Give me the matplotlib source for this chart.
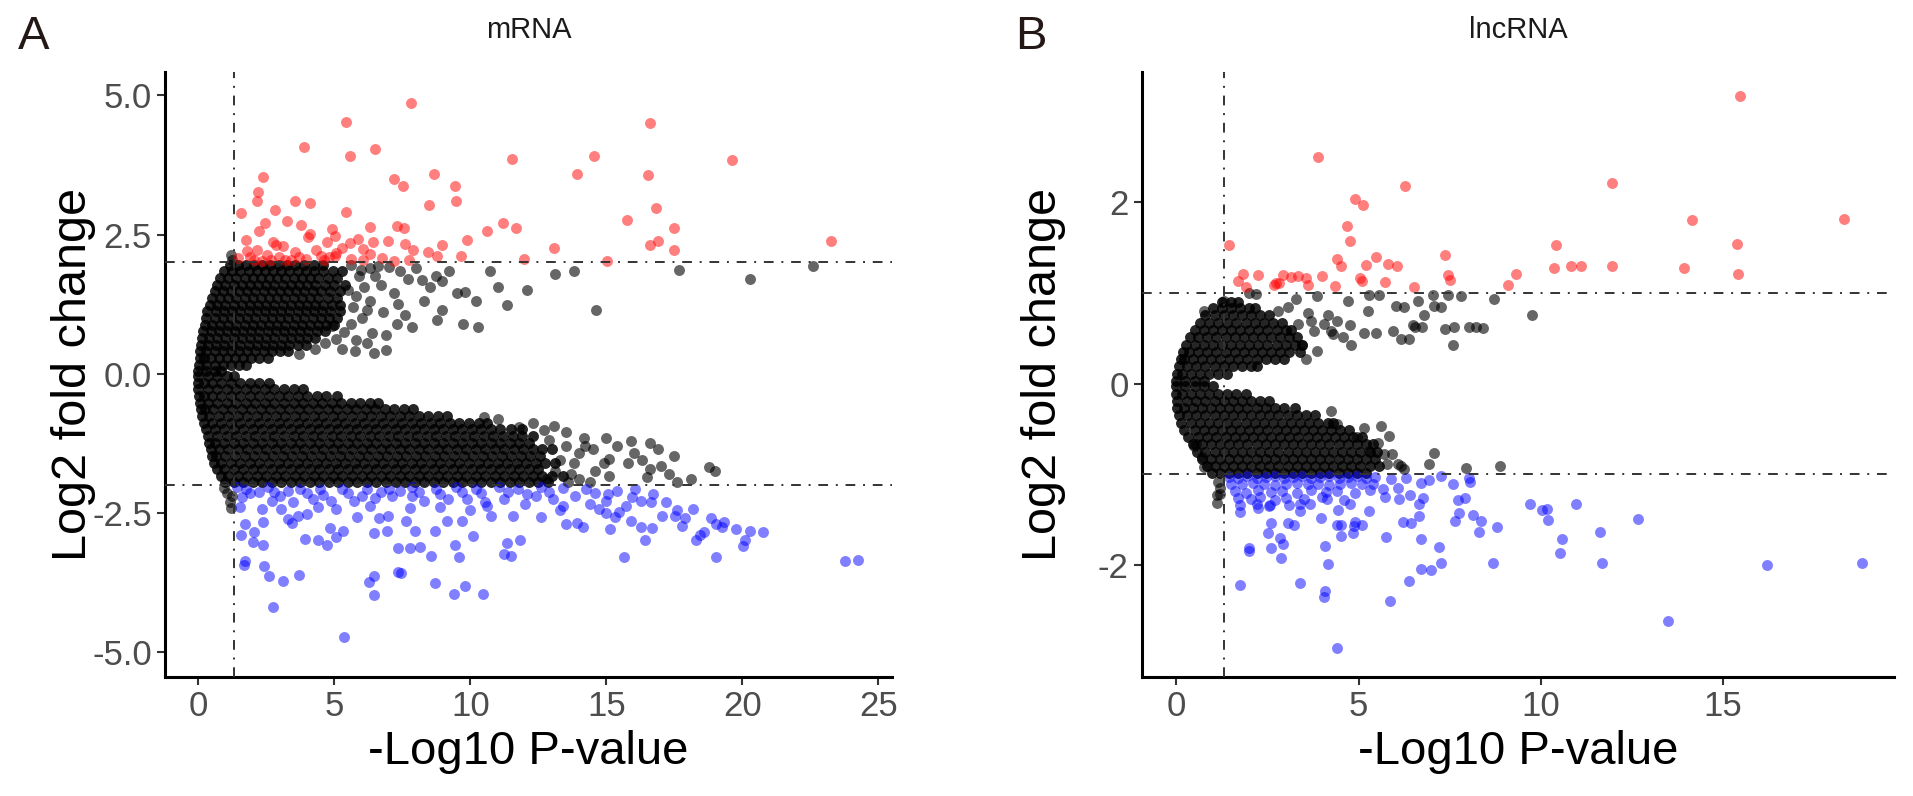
import matplotlib
matplotlib.use("Agg")
import matplotlib.pyplot as plt
from matplotlib.ticker import FormatStrFormatter

plt.rcParams['font.family'] = ['Liberation Sans Narrow', 'Liberation Sans', 'DejaVu Sans']

P_CUT = 1.3          # -log10(0.05)
MRNA_FC = 2.0
LNC_FC = 1.0

# ---------------- mRNA (panel A) ----------------
# up-regulated (red)
mrna_up = [
    (7.82, 4.86), (5.42, 4.52), (16.6, 4.51), (3.88, 4.07), (6.51, 4.03), (5.57, 3.92),
    (11.54, 3.85), (14.56, 3.91), (19.6, 3.84), (2.37, 3.54), (8.66, 3.58), (13.93, 3.58),
    (16.53, 3.57), (7.18, 3.49), (7.51, 3.38), (9.44, 3.38), (2.21, 3.27), (2.14, 3.10),
    (3.55, 3.11), (4.11, 3.06), (8.49, 3.03), (9.48, 3.11), (1.57, 2.88), (2.83, 2.94),
    (5.44, 2.91), (16.83, 2.97), (3.27, 2.75), (3.77, 2.67), (2.44, 2.70), (2.22, 2.57),
    (11.2, 2.71), (11.69, 2.61), (15.76, 2.77), (17.47, 2.61), (6.32, 2.63), (7.29, 2.66),
    (7.56, 2.61), (4.90, 2.60), (4.11, 2.51), (5.03, 2.48), (1.76, 2.41), (10.63, 2.56),
    (23.25, 2.38), (2.73, 2.36), (4.03, 2.45), (5.87, 2.42), (6.97, 2.38), (6.42, 2.37),
    (5.59, 2.35), (4.72, 2.36), (9.87, 2.40), (8.97, 2.32), (7.59, 2.33), (13.07, 2.26),
    (16.6, 2.31), (16.88, 2.38), (17.47, 2.22), (2.14, 2.22), (2.85, 2.32), (3.57, 2.19),
    (4.34, 2.23), (5.08, 2.17), (6.06, 2.24), (7.9, 2.22), (8.46, 2.19), (8.77, 2.11),
    (9.66, 2.11), (11.99, 2.06), (15.04, 2.03), (2.53, 2.14), (3.19, 2.05), (3.95, 2.06),
    (4.62, 2.05), (6.06, 2.04), (6.77, 2.08), (7.21, 2.02), (7.75, 2.05), (2.06, 2.05),
    (2.67, 2.04), (5.04, 2.11), (1.45, 2.08), (1.9, 2.1), (2.35, 2.02), (2.95, 2.1),
    (3.4, 2.04), (3.7, 2.1), (4.5, 2.12), (5.6, 2.06), (5.3, 2.25), (6.3, 2.15),
    (4.8, 2.1), (1.8, 2.2), (3.1, 2.3),
]

# down-regulated (blue)
mrna_down = [
    (5.37, -4.74), (2.73, -4.20), (6.46, -3.98), (9.39, -3.95), (9.82, -3.81), (10.48, -3.95),
    (8.69, -3.76), (6.26, -3.74), (6.47, -3.63), (7.33, -3.57), (7.46, -3.59), (3.11, -3.73),
    (3.72, -3.61), (2.60, -3.64), (2.40, -3.46), (1.68, -3.44), (1.70, -3.37), (23.76, -3.37),
    (24.26, -3.34), (15.65, -3.29), (19.03, -3.30), (8.54, -3.28), (9.59, -3.30), (11.23, -3.24),
    (11.48, -3.28), (7.34, -3.13), (7.80, -3.13), (8.16, -3.12), (9.43, -3.08), (11.36, -3.04),
    (11.82, -2.98), (10.1, -2.91), (20.03, -3.10), (20.1, -2.98), (16.42, -2.99), (18.29, -2.98),
    (18.44, -2.90), (20.28, -2.83), (20.77, -2.85), (19.77, -2.79), (19.04, -2.70), (19.32, -2.67),
    (18.83, -2.60), (15.14, -2.79), (16.26, -2.76), (16.67, -2.77), (17.77, -2.73), (17.52, -2.55),
    (18.18, -2.43), (17.03, -2.55), (15.89, -2.65), (15.32, -2.58), (13.51, -2.70), (13.92, -2.68),
    (14.15, -2.76), (12.61, -2.57), (11.58, -2.56), (10.76, -2.55), (9.13, -2.65), (9.69, -2.65),
    (8.69, -2.83), (7.95, -2.83), (6.95, -2.82), (6.47, -2.87), (6.65, -2.60), (6.97, -2.55),
    (7.62, -2.64), (4.85, -2.77), (5.31, -2.83), (5.08, -2.93), (4.72, -3.08), (4.40, -2.98),
    (3.93, -2.97), (2.39, -3.08), (2.01, -3.02), (1.57, -2.89), (2.06, -2.85), (1.71, -2.70),
    (2.37, -2.67), (3.29, -2.61), (3.44, -2.68), (3.98, -2.52), (3.68, -2.56), (5.83, -2.58),
    (3.04, -2.43), (2.35, -2.43), (1.52, -2.40), (5.05, -2.43), (7.77, -2.42), (10.63, -2.37),
    (13.42, -2.38), (14.73, -2.43), (15.73, -2.37), (16.65, -2.31), (16.29, -2.28), (14.97, -2.28),
    (14.24, -2.07), (13.83, -2.19), (13.02, -2.25), (12.43, -2.19), (11.25, -2.25), (10.53, -2.31),
    (9.89, -2.26), (9.18, -2.25), (8.29, -2.28), (7.84, -2.19), (7.13, -2.19), (6.49, -2.24),
    (5.73, -2.28), (4.88, -2.28), (4.22, -2.25), (3.49, -2.30), (3.0, -2.19), (2.25, -2.13),
    (1.76, -2.07), (1.44, -2.04), (2.58, -2.04), (3.73, -2.07), (4.47, -2.07), (5.29, -2.08),
    (6.19, -2.07), (7.02, -2.07), (7.84, -2.04), (8.74, -2.07), (9.48, -2.04), (10.21, -2.07),
    (11.04, -2.04), (11.77, -2.07), (12.6, -2.04), (13.42, -2.06), (16.04, -2.07), (16.7, -2.16),
    (15.96, -2.22), (15.06, -2.16), (15.47, -2.49), (18.59, -2.85), (19.24, -2.76),
    (1.9, -2.15), (2.8, -2.12), (3.3, -2.1), (4.0, -2.15), (4.6, -2.18), (5.5, -2.15),
    (6.0, -2.2), (6.7, -2.12), (7.4, -2.1), (8.1, -2.12), (8.9, -2.16), (9.7, -2.12),
    (10.4, -2.15), (11.4, -2.13), (12.1, -2.16), (12.9, -2.12), (14.6, -2.14), (15.4, -2.1),
    (17.2, -2.3), (17.6, -2.45), (14.4, -2.35), (12.0, -2.35), (8.9, -2.4), (6.3, -2.38),
    (4.4, -2.4), (2.7, -2.28), (1.6, -2.22), (17.9, -2.6), (15.0, -2.5), (13.3, -2.45),
    (10.0, -2.45),
]

# not significant, dense core read row by row: (log2FC, [-log10 p ...])
mrna_ns_rows = [
    (1.95, [1.15, 1.45, 1.75, 2.05, 2.35, 2.65, 2.95, 3.25, 3.55, 3.9, 4.25, 4.6]),
    (1.84, [0.95, 1.25, 1.55, 1.85, 2.15, 2.45, 2.75, 3.05, 3.35, 3.65, 3.95, 4.25, 4.6, 4.95, 5.3]),
    (1.72, [0.8, 1.1, 1.4, 1.7, 2.0, 2.3, 2.6, 2.9, 3.2, 3.5, 3.8, 4.1, 4.4, 4.75, 5.1]),
    (1.60, [0.7, 1.0, 1.3, 1.6, 1.9, 2.2, 2.5, 2.8, 3.1, 3.4, 3.7, 4.0, 4.3, 4.65, 5.0, 5.4]),
    (1.48, [0.6, 0.9, 1.2, 1.5, 1.8, 2.1, 2.4, 2.7, 3.0, 3.3, 3.6, 3.9, 4.2, 4.5, 4.85, 5.2]),
    (1.36, [0.5, 0.8, 1.1, 1.4, 1.7, 2.0, 2.3, 2.6, 2.9, 3.2, 3.5, 3.8, 4.1, 4.4, 4.75, 5.1]),
    (1.24, [0.42, 0.7, 1.0, 1.3, 1.6, 1.9, 2.2, 2.5, 2.8, 3.1, 3.4, 3.7, 4.0, 4.3, 4.6, 4.9, 5.2]),
    (1.12, [0.33, 0.65, 0.95, 1.25, 1.55, 1.85, 2.15, 2.45, 2.75, 3.05, 3.35, 3.65, 3.95, 4.25, 4.55, 4.85, 5.2]),
    (1.00, [0.28, 0.6, 0.9, 1.2, 1.5, 1.8, 2.1, 2.4, 2.7, 3.0, 3.3, 3.6, 3.9, 4.2, 4.5, 4.8, 5.1]),
    (0.88, [0.23, 0.5, 0.8, 1.1, 1.4, 1.7, 2.0, 2.3, 2.6, 2.9, 3.2, 3.5, 3.8, 4.1, 4.4, 4.7, 5.0]),
    (0.76, [0.18, 0.45, 0.75, 1.05, 1.35, 1.65, 1.95, 2.25, 2.55, 2.85, 3.15, 3.45, 3.75, 4.05, 4.35, 4.65]),
    (0.64, [0.13, 0.4, 0.7, 1.0, 1.3, 1.6, 1.9, 2.2, 2.5, 2.8, 3.1, 3.4, 3.7, 4.0, 4.3]),
    (0.52, [0.1, 0.35, 0.65, 0.95, 1.25, 1.55, 1.85, 2.15, 2.45, 2.75, 3.05, 3.35, 3.65, 3.95]),
    (0.40, [0.08, 0.3, 0.6, 0.9, 1.2, 1.5, 1.8, 2.1, 2.4, 2.7, 3.0, 3.3]),
    (0.28, [0.05, 0.2, 0.45, 0.75, 1.05, 1.35, 1.65, 1.95, 2.25, 2.55]),
    (0.16, [0.02, 0.3, 0.6, 0.9, 1.2, 1.5, 1.75]),
    (0.04, [0.0, 0.3, 0.6, 0.85]),
    (-0.04, [0.0, 0.35, 0.7, 1.05, 1.3]),
    (-0.16, [0.0, 0.2, 0.5, 0.85, 1.2, 1.55, 1.9, 2.25, 2.6]),
    (-0.28, [0.0, 0.35, 0.7, 1.05, 1.4, 1.75, 2.1, 2.45, 2.8, 3.15, 3.5, 3.85]),
    (-0.40, [0.02, 0.2, 0.5, 0.85, 1.2, 1.55, 1.9, 2.25, 2.6, 2.95, 3.3, 3.65, 4.0, 4.35, 4.7, 5.1]),
    (-0.52, [0.05, 0.35, 0.7, 1.05, 1.4, 1.75, 2.1, 2.45, 2.8, 3.15, 3.5, 3.85, 4.2, 4.55, 4.9, 5.25,
             5.6, 5.95, 6.3, 6.6]),
    (-0.64, [0.1, 0.25, 0.55, 0.9, 1.25, 1.6, 1.95, 2.3, 2.65, 3.0, 3.35, 3.7, 4.05, 4.4, 4.75, 5.1,
             5.45, 5.8, 6.15, 6.5, 6.85, 7.2, 7.55, 7.9]),
    (-0.76, [0.15, 0.4, 0.75, 1.1, 1.45, 1.8, 2.15, 2.5, 2.85, 3.2, 3.55, 3.9, 4.25, 4.6, 4.95, 5.3,
             5.65, 6.0, 6.35, 6.7, 7.05, 7.4, 7.75, 8.1, 8.45, 8.8, 9.15]),
    (-0.88, [0.22, 0.5, 0.85, 1.2, 1.55, 1.9, 2.25, 2.6, 2.95, 3.3, 3.65, 4.0, 4.35, 4.7, 5.05, 5.4,
             5.75, 6.1, 6.45, 6.8, 7.15, 7.5, 7.85, 8.2, 8.55, 8.9, 9.25, 9.6, 9.95, 10.3, 10.6]),
    (-1.00, [0.3, 0.6, 0.95, 1.3, 1.65, 2.0, 2.35, 2.7, 3.05, 3.4, 3.75, 4.1, 4.45, 4.8, 5.15, 5.5,
             5.85, 6.2, 6.55, 6.9, 7.25, 7.6, 7.95, 8.3, 8.65, 9.0, 9.35, 9.7, 10.05, 10.4, 10.75,
             11.1, 11.5, 11.9]),
    (-1.12, [0.35, 0.7, 1.05, 1.4, 1.75, 2.1, 2.45, 2.8, 3.15, 3.5, 3.85, 4.2, 4.55, 4.9, 5.25, 5.6,
             5.95, 6.3, 6.65, 7.0, 7.35, 7.7, 8.05, 8.4, 8.75, 9.1, 9.45, 9.8, 10.15, 10.5, 10.85,
             11.2, 11.55, 11.9, 12.3]),
    (-1.24, [0.4, 0.6, 0.95, 1.3, 1.65, 2.0, 2.35, 2.7, 3.05, 3.4, 3.75, 4.1, 4.45, 4.8, 5.15, 5.5,
             5.85, 6.2, 6.55, 6.9, 7.25, 7.6, 7.95, 8.3, 8.65, 9.0, 9.35, 9.7, 10.05, 10.4, 10.75,
             11.1, 11.45, 11.8, 12.15]),
    (-1.36, [0.45, 0.75, 1.1, 1.45, 1.8, 2.15, 2.5, 2.85, 3.2, 3.55, 3.9, 4.25, 4.6, 4.95, 5.3, 5.65,
             6.0, 6.35, 6.7, 7.05, 7.4, 7.75, 8.1, 8.45, 8.8, 9.15, 9.5, 9.85, 10.2, 10.55, 10.9,
             11.25, 11.6, 11.95, 12.3, 12.65, 13.0]),
    (-1.48, [0.5, 0.65, 1.0, 1.35, 1.7, 2.05, 2.4, 2.75, 3.1, 3.45, 3.8, 4.15, 4.5, 4.85, 5.2, 5.55,
             5.9, 6.25, 6.6, 6.95, 7.3, 7.65, 8.0, 8.35, 8.7, 9.05, 9.4, 9.75, 10.1, 10.45, 10.8,
             11.15, 11.5, 11.85, 12.2, 12.55]),
    (-1.60, [0.58, 0.85, 1.2, 1.55, 1.9, 2.25, 2.6, 2.95, 3.3, 3.65, 4.0, 4.35, 4.7, 5.05, 5.4, 5.75,
             6.1, 6.45, 6.8, 7.15, 7.5, 7.85, 8.2, 8.55, 8.9, 9.25, 9.6, 9.95, 10.3, 10.65, 11.0,
             11.35, 11.7, 12.05, 12.4, 12.75, 13.1]),
    (-1.72, [0.68, 0.95, 1.3, 1.65, 2.0, 2.35, 2.7, 3.05, 3.4, 3.75, 4.1, 4.45, 4.8, 5.15, 5.5, 5.85,
             6.2, 6.55, 6.9, 7.25, 7.6, 7.95, 8.3, 8.65, 9.0, 9.35, 9.7, 10.05, 10.4, 10.75, 11.1,
             11.45, 11.8, 12.15, 12.5]),
    (-1.84, [0.85, 1.1, 1.45, 1.8, 2.15, 2.5, 2.85, 3.2, 3.55, 3.9, 4.25, 4.6, 4.95, 5.3, 5.65, 6.0,
             6.35, 6.7, 7.05, 7.4, 7.75, 8.1, 8.45, 8.8, 9.15, 9.5, 9.85, 10.2, 10.55, 10.9, 11.25,
             11.6, 11.95, 12.3, 12.65, 13.0, 13.4]),
    (-1.95, [1.0, 1.3, 1.65, 2.0, 2.35, 2.7, 3.05, 3.4, 3.75, 4.1, 4.45, 4.8, 5.15, 5.5, 5.85, 6.2,
             6.55, 6.9, 7.25, 7.6, 7.95, 8.3, 8.65, 9.0, 9.35, 9.7, 10.05, 10.4, 10.75, 11.1, 11.45,
             11.8, 12.15, 12.5, 12.85]),
]

# not significant, scattered points outside the core
mrna_ns_extra = [
    (10.71, 1.84), (13.1, 1.80), (13.81, 1.85), (17.67, 1.86), (20.28, 1.70), (22.6, 1.93),
    (7.0, 1.92), (6.6, 1.94), (5.98, 1.86), (7.70, 1.71), (8.21, 1.68), (8.72, 1.75),
    (8.95, 1.67), (12.1, 1.50), (9.8, 1.47), (11.36, 1.23), (14.63, 1.14), (10.29, 0.84),
    (9.74, 0.89), (9.5, 1.45), (8.97, 1.14), (8.79, 0.96), (7.87, 0.84), (7.35, 1.26),
    (6.9, 0.42), (6.47, 0.37), (6.4, 0.73), (5.8, 0.6), (6.0, 1.0), (6.3, 1.3),
    (6.7, 1.6), (5.9, 1.75), (7.2, 1.45), (6.8, 1.1), (7.6, 1.05), (8.3, 1.3),
    (5.7, 1.2), (5.6, 0.9), (6.2, 0.55), (5.5, 1.5), (6.1, 1.55), (8.0, 1.9),
    (9.2, 1.85), (10.2, 1.3), (11.0, 1.55), (6.9, 0.7), (1.19, 2.14), (1.25, 2.05),
    (5.6, 1.95), (6.3, 1.9), (5.75, 0.4), (5.3, 0.45), (7.3, 0.9), (8.5, 1.55),
    (5.35, 0.75), (4.65, 0.55), (4.3, 0.45), (3.7, 0.35), (5.05, 0.62), (4.9, 0.85),
    (5.8, 1.4), (6.5, 1.75), (7.4, 1.85), (6.2, 1.15),
    (13.06, -0.94), (14.19, -1.15), (15.0, -1.15), (15.9, -1.21), (16.6, -1.24), (17.48, -1.48),
    (18.78, -1.68), (19.0, -1.74), (12.3, -0.88), (11.8, -0.95), (12.7, -1.02), (13.5, -1.3),
    (13.8, -1.6), (14.0, -1.42), (14.5, -1.36), (15.1, -1.54), (15.8, -1.6), (16.0, -1.42),
    (15.4, -1.3), (14.9, -1.6), (16.6, -1.71), (15.1, -1.83), (14.6, -1.75), (16.3, -1.55),
    (16.5, -1.85), (17.0, -1.65), (17.3, -1.8), (17.6, -1.95), (18.1, -1.9), (16.9, -1.35),
    (14.0, -1.9), (13.7, -1.8), (14.4, -1.95), (13.5, -1.05), (14.2, -1.3), (11.0, -0.82),
    (10.5, -0.78), (12.9, -1.2), (13.3, -1.55), (13.1, -1.75), (12.8, -1.9), (13.6, -1.95),
    (0.95, -2.05), (1.05, -2.15), (1.15, -2.3), (1.22, -2.42), (1.25, -2.2),
]

# ---------------- lncRNA (panel B) ----------------
lnc_up = [
    (15.47, 3.17), (3.90, 2.50), (11.94, 2.21), (6.27, 2.17), (4.91, 2.03), (5.13, 1.97),
    (14.16, 1.80), (18.32, 1.81), (4.68, 1.73), (4.77, 1.57), (1.45, 1.53), (10.41, 1.53),
    (15.39, 1.54), (4.42, 1.37), (4.51, 1.29), (5.21, 1.31), (5.48, 1.39), (5.81, 1.32),
    (6.05, 1.29), (7.36, 1.42), (7.46, 1.20), (7.51, 1.14), (9.11, 1.09), (9.31, 1.21),
    (10.35, 1.27), (10.82, 1.29), (11.09, 1.29), (11.94, 1.29), (13.94, 1.27), (15.42, 1.21),
    (1.82, 1.21), (1.70, 1.13), (1.91, 1.06), (2.25, 1.20), (2.69, 1.08), (2.82, 1.11),
    (2.94, 1.20), (3.14, 1.17), (3.33, 1.18), (3.56, 1.16), (3.62, 1.09), (3.99, 1.18),
    (4.34, 1.07), (5.04, 1.16), (5.09, 1.13), (5.73, 1.12), (6.51, 1.06), (2.74, 1.11),
]

lnc_down = [
    (4.42, -2.91), (13.50, -2.61), (16.21, -2.0), (18.82, -1.97), (5.87, -2.39), (6.39, -2.17),
    (6.71, -2.04), (7.0, -2.05), (7.26, -1.97), (7.21, -1.80), (6.71, -1.71), (5.76, -1.69),
    (8.69, -1.98), (10.52, -1.87), (10.58, -1.71), (11.67, -1.98), (11.63, -1.63), (12.66, -1.49),
    (10.96, -1.33), (9.70, -1.32), (10.03, -1.39), (10.20, -1.50), (10.16, -1.38), (8.81, -1.58),
    (8.30, -1.63), (8.36, -1.51), (8.15, -1.45), (7.76, -1.42), (7.64, -1.51), (7.91, -1.26),
    (7.74, -1.28), (7.58, -1.11), (8.07, -1.08), (8.03, -1.04), (7.27, -1.02), (6.93, -1.06),
    (6.72, -1.09), (6.76, -1.26), (6.65, -1.33), (6.65, -1.46), (6.43, -1.53), (6.21, -1.52),
    (6.40, -1.23), (6.07, -1.15), (6.10, -1.27), (5.72, -1.25), (5.67, -1.16), (5.29, -1.40),
    (5.10, -1.56), (4.87, -1.57), (4.85, -1.65), (4.91, -1.52), (4.53, -1.68), (4.52, -1.56),
    (4.41, -1.56), (4.44, -1.39), (4.15, -1.99), (4.09, -1.79), (4.07, -2.28), (4.06, -2.35),
    (3.40, -2.20), (2.86, -1.92), (2.92, -1.77), (2.85, -1.70), (2.61, -1.81), (2.51, -1.64),
    (2.61, -1.54), (3.22, -1.56), (3.07, -1.54), (3.39, -1.40), (2.0, -1.84), (1.99, -1.81),
    (1.75, -2.22), (1.76, -1.41), (2.24, -1.37), (2.56, -1.34), (3.96, -1.48), (3.68, -1.32),
    (4.14, -1.27), (4.76, -1.33),
    (1.45, -1.03), (1.7, -1.04), (1.95, -1.02), (2.2, -1.04), (2.45, -1.03), (2.7, -1.02),
    (2.95, -1.04), (3.2, -1.03), (3.45, -1.02), (3.7, -1.04), (3.95, -1.03), (4.2, -1.02),
    (4.45, -1.04), (4.7, -1.03), (4.95, -1.02), (5.2, -1.04), (5.45, -1.03), (5.9, -1.05),
    (6.3, -1.04), (1.5, -1.1), (1.8, -1.11), (2.1, -1.09), (2.4, -1.1), (2.7, -1.12),
    (3.0, -1.1), (3.3, -1.09), (3.6, -1.11), (3.9, -1.1), (4.2, -1.12), (4.5, -1.1),
    (4.8, -1.09), (5.1, -1.11), (5.4, -1.1), (1.6, -1.18), (1.9, -1.2), (2.25, -1.17),
    (2.6, -1.19), (2.9, -1.18), (3.3, -1.2), (3.7, -1.17), (4.1, -1.19), (4.4, -1.18),
    (4.9, -1.2), (5.3, -1.17), (1.7, -1.26), (2.05, -1.27), (2.3, -1.25), (2.7, -1.28),
    (3.0, -1.26), (3.5, -1.27), (4.0, -1.25), (4.6, -1.28), (1.75, -1.34), (2.2, -1.33),
    (2.55, -1.35), (3.1, -1.34), (3.4, -1.33),
]

lnc_ns_rows = [
    (0.90, [1.25, 1.5, 1.7]),
    (0.83, [1.0, 1.25, 1.5, 1.75, 2.0, 2.15]),
    (0.75, [0.8, 1.05, 1.3, 1.55, 1.8, 2.05, 2.3, 2.55]),
    (0.67, [0.65, 0.9, 1.15, 1.4, 1.65, 1.9, 2.15, 2.4, 2.65, 2.9]),
    (0.59, [0.52, 0.75, 1.0, 1.25, 1.5, 1.75, 2.0, 2.25, 2.5, 2.75, 3.0, 3.15]),
    (0.51, [0.38, 0.6, 0.85, 1.1, 1.35, 1.6, 1.85, 2.1, 2.35, 2.6, 2.85, 3.1, 3.3]),
    (0.43, [0.27, 0.5, 0.75, 1.0, 1.25, 1.5, 1.75, 2.0, 2.25, 2.5, 2.75, 3.0, 3.25, 3.45]),
    (0.35, [0.18, 0.35, 0.6, 0.85, 1.1, 1.35, 1.6, 1.85, 2.1, 2.35, 2.6, 2.85, 3.1, 3.4]),
    (0.27, [0.12, 0.2, 0.45, 0.7, 0.95, 1.2, 1.45, 1.7, 1.95, 2.2, 2.45, 2.7, 2.95]),
    (0.19, [0.07, 0.3, 0.55, 0.8, 1.05, 1.3, 1.55, 1.8, 2.05, 2.2]),
    (0.11, [0.02, 0.15, 0.4, 0.65, 0.9, 1.15, 1.4]),
    (0.03, [0.0, 0.25, 0.5, 0.75]),
    (-0.03, [0.0, 0.25, 0.5, 0.75, 1.0]),
    (-0.11, [0.0, 0.15, 0.4, 0.65, 0.9, 1.15, 1.4, 1.65, 1.9]),
    (-0.19, [0.01, 0.3, 0.55, 0.8, 1.05, 1.3, 1.55, 1.8, 2.05, 2.3, 2.55]),
    (-0.27, [0.03, 0.2, 0.45, 0.7, 0.95, 1.2, 1.45, 1.7, 1.95, 2.2, 2.45, 2.7, 2.95, 3.25]),
    (-0.35, [0.08, 0.3, 0.55, 0.8, 1.05, 1.3, 1.55, 1.8, 2.05, 2.3, 2.55, 2.8, 3.05, 3.3, 3.55, 3.8]),
    (-0.43, [0.14, 0.4, 0.65, 0.9, 1.15, 1.4, 1.65, 1.9, 2.15, 2.4, 2.65, 2.9, 3.15, 3.4, 3.65, 3.9,
             4.15, 4.3]),
    (-0.51, [0.22, 0.5, 0.75, 1.0, 1.25, 1.5, 1.75, 2.0, 2.25, 2.5, 2.75, 3.0, 3.25, 3.5, 3.75, 4.0,
             4.25, 4.5, 4.75]),
    (-0.59, [0.33, 0.6, 0.85, 1.1, 1.35, 1.6, 1.85, 2.1, 2.35, 2.6, 2.85, 3.1, 3.35, 3.6, 3.85, 4.1,
             4.35, 4.6, 4.85, 5.1]),
    (-0.67, [0.45, 0.7, 0.95, 1.2, 1.45, 1.7, 1.95, 2.2, 2.45, 2.7, 2.95, 3.2, 3.45, 3.7, 3.95, 4.2,
             4.45, 4.7, 4.95, 5.2, 5.4]),
    (-0.75, [0.58, 0.8, 1.05, 1.3, 1.55, 1.8, 2.05, 2.3, 2.55, 2.8, 3.05, 3.3, 3.55, 3.8, 4.05, 4.3,
             4.55, 4.8, 5.05, 5.3, 5.5]),
    (-0.83, [0.7, 0.95, 1.2, 1.45, 1.7, 1.95, 2.2, 2.45, 2.7, 2.95, 3.2, 3.45, 3.7, 3.95, 4.2, 4.45,
             4.7, 4.95, 5.2, 5.45]),
    (-0.91, [0.85, 1.05, 1.3, 1.55, 1.8, 2.05, 2.3, 2.55, 2.8, 3.05, 3.3, 3.55, 3.8, 4.05, 4.3, 4.55,
             4.8, 5.05, 5.3, 5.55]),
    (-0.98, [0.98, 1.2, 1.45, 1.7, 1.95, 2.2, 2.45, 2.7, 2.95, 3.2, 3.45, 3.7, 3.95, 4.2, 4.45, 4.7,
             4.95, 5.2]),
]

lnc_ns_extra = [
    (3.87, 0.36), (3.56, 0.27), (4.79, 0.43), (4.24, 0.58), (4.76, 0.64), (5.15, 0.56),
    (5.48, 0.56), (5.95, 0.58), (6.37, 0.49), (6.48, 0.64), (6.75, 0.62), (6.80, 0.75),
    (6.62, 0.91), (6.02, 0.85), (6.25, 0.84), (5.25, 0.80), (4.72, 0.91), (3.87, 0.96),
    (3.28, 0.93), (5.29, 0.98), (5.57, 0.98), (7.05, 0.98), (7.26, 0.84), (7.07, 0.85),
    (7.44, 0.97), (7.80, 0.96), (7.62, 0.62), (7.59, 0.42), (8.22, 0.62), (8.40, 0.61),
    (8.72, 0.93), (9.75, 0.75), (2.18, 0.99), (2.78, 0.80), (3.05, 0.84), (3.6, 0.78),
    (4.15, 0.76), (4.42, 0.69), (4.06, 0.66), (3.69, 0.69), (3.33, 0.66), (3.78, 0.58),
    (3.46, 0.43), (4.29, 0.55), (4.56, 0.51), (1.99, 1.0), (1.32, 0.91), (0.77, 0.80),
    (7.38, 0.60), (8.03, 0.62), (6.15, 0.49), (6.54, 0.62),
    (5.61, -0.47), (5.84, -0.58), (5.15, -0.49), (4.24, -0.30), (4.42, -0.45), (4.97, -0.59),
    (5.52, -0.65), (5.70, -0.78), (6.07, -0.89), (6.25, -0.94), (7.07, -0.76), (6.94, -0.89),
    (7.94, -0.93), (8.87, -0.91), (5.79, -0.89), (5.93, -0.78), (5.29, -0.74), (6.16, -0.91),
    (0.53, -0.67), (0.71, -0.81), (0.49, -0.69), (0.77, -0.92), (1.12, -1.23), (1.12, -1.31),
    (1.19, -1.22), (1.15, -1.08), (1.2, -1.15),
]


def rows_to_xy(rows):
    xs, ys = [], []
    for fc, pvals in rows:
        xs += pvals
        ys += [fc] * len(pvals)
    return xs, ys


def volcano(ax, ns_rows, ns_extra, up, down, fc_cut, xlim, ylim, xticks, yticks, yfmt, title):
    # the core stands for thousands of stacked points, so it is drawn darker
    cx, cy = rows_to_xy(ns_rows)
    ax.scatter(cx, cy, s=62, color='black', alpha=0.85, linewidths=0, zorder=2)
    ax.scatter([p[0] for p in ns_extra], [p[1] for p in ns_extra], s=62, color='black',
               alpha=0.6, linewidths=0, zorder=2)
    ax.scatter([p[0] for p in up], [p[1] for p in up], s=62, color='#FF0000',
               alpha=0.5, linewidths=0, zorder=2)
    ax.scatter([p[0] for p in down], [p[1] for p in down], s=62, color='#0000FF',
               alpha=0.5, linewidths=0, zorder=2)

    dash = (0, (5, 4, 1, 4))
    for yy in (fc_cut, -fc_cut):
        ax.axhline(yy, color='#333333', lw=1.4, ls=dash, zorder=3)
    ax.axvline(P_CUT, color='#333333', lw=1.4, ls=dash, zorder=3)

    ax.set_xlim(*xlim)
    ax.set_ylim(*ylim)
    ax.set_xticks(xticks)
    ax.set_yticks(yticks)
    ax.yaxis.set_major_formatter(FormatStrFormatter(yfmt))

    for s in ('top', 'right'):
        ax.spines[s].set_visible(False)
    for s in ('left', 'bottom'):
        ax.spines[s].set_linewidth(2.2)
        ax.spines[s].set_color('black')
    ax.tick_params(axis='both', length=5.5, width=1.5, color='#333333',
                   labelcolor='#4D4D4D', labelsize=25, pad=4)

    ax.set_xlabel('-Log10 P-value', fontsize=34, color='black')
    ax.set_ylabel('Log2 fold change', fontsize=35, color='black')
    ax.xaxis.label.set_va('center')
    ax.yaxis.label.set_va('center')
    ax.xaxis.set_label_coords(0.5, -0.124)
    ax.text(0.5, 1.069, title, transform=ax.transAxes, ha='center', va='center',
            fontsize=21, color='#1a1a1a')


fig = plt.figure(figsize=(19.13, 7.96), dpi=100)
ax_a = fig.add_axes([0.0863, 0.1495, 0.380, 0.76])
ax_b = fig.add_axes([0.597, 0.1495, 0.3933, 0.76])

volcano(ax_a, mrna_ns_rows, mrna_ns_extra, mrna_up, mrna_down, MRNA_FC,
        (-1.22, 25.5), (-5.45, 5.42), [0, 5, 10, 15, 20, 25],
        [-5.0, -2.5, 0.0, 2.5, 5.0], '%.1f', 'mRNA')
ax_a.yaxis.set_label_coords(-0.1265, 0.5)

volcano(ax_b, lnc_ns_rows, lnc_ns_extra, lnc_up, lnc_down, LNC_FC,
        (-0.94, 19.7), (-3.23, 3.43), [0, 5, 10, 15],
        [-2, 0, 2], '%d', 'lncRNA')
ax_b.yaxis.set_label_coords(-0.1316, 0.5)

fig.text(0.0178, 0.954, 'A', fontsize=34, ha='center', va='center', color='#231815')
fig.text(0.539, 0.954, 'B', fontsize=34, ha='center', va='center', color='#231815')

fig.savefig('out.png', dpi=100)
